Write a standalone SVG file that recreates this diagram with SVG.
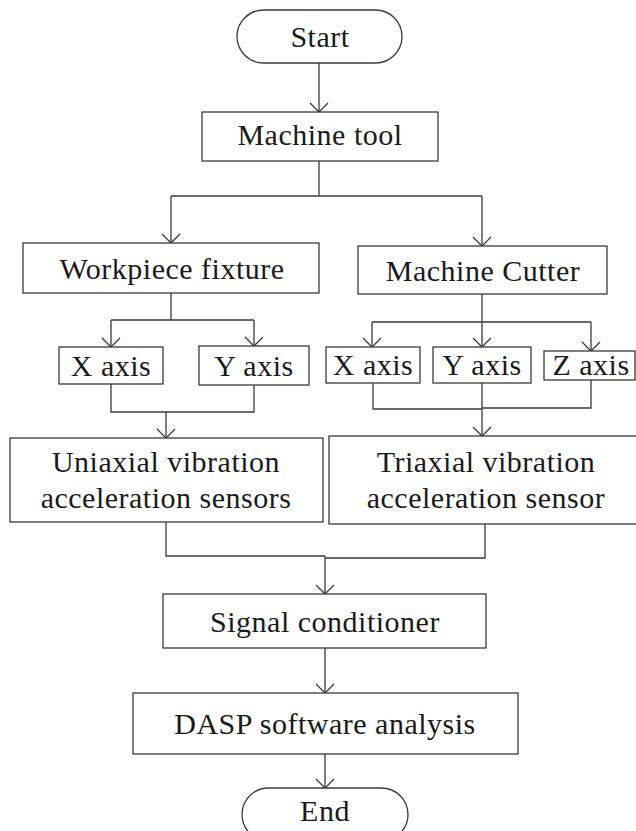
<svg xmlns="http://www.w3.org/2000/svg" width="636" height="831" viewBox="0 0 636 831">
  <style>
    .box { fill: #ffffff; stroke: #3a3a3a; stroke-width: 1.3; }
    .lbl { font-family: "Liberation Serif", "Times New Roman", serif; font-size: 30px; letter-spacing: 0.5px; fill: #1a1a1a; text-anchor: middle; }
    .wire { fill: none; stroke: #3a3a3a; stroke-width: 1.3; }
    .arr { marker-end: url(#vee); }
  </style>
  <defs>
    <marker id="vee" viewBox="-10 -10 20 20" markerWidth="20" markerHeight="20" refX="0" refY="0" orient="auto" markerUnits="userSpaceOnUse" overflow="visible">
      <path d="M -9 -9 L 0 0 L -9 9" fill="none" stroke="#3a3a3a" stroke-width="1.3"/>
    </marker>
  </defs>
  <rect width="636" height="831" fill="#ffffff"/>

  <!-- connectors -->
  <g id="connectors">
    <path class="wire arr" d="M 319 63 V 112"/>
    <path class="wire" d="M 319 161 V 196 M 171 196 H 482"/>
    <path class="wire arr" d="M 171 196 V 243"/>
    <path class="wire arr" d="M 482 196 V 246"/>

    <path class="wire" d="M 171 293 V 320 M 111 320 H 254"/>
    <path class="wire arr" d="M 111 320 V 347"/>
    <path class="wire arr" d="M 254 320 V 346"/>

    <path class="wire" d="M 482 294 V 322 M 372 322 H 591"/>
    <path class="wire arr" d="M 372 322 V 347"/>
    <path class="wire arr" d="M 482 322 V 347"/>
    <path class="wire arr" d="M 591 322 V 351"/>

    <path class="wire" d="M 111 384 V 412 H 254 V 385"/>
    <path class="wire arr" d="M 166 412 V 438"/>

    <path class="wire" d="M 373 383 V 409 H 482 M 482 408 H 591 V 380"/>
    <path class="wire arr" d="M 482 383 V 436"/>

    <path class="wire" d="M 166 522 V 556 H 325 M 485 524 V 558 H 325"/>
    <path class="wire arr" d="M 325 556 V 594"/>
    <path class="wire arr" d="M 325 648 V 693"/>
    <path class="wire arr" d="M 325 754 V 788"/>
  </g>

  <g id="start">
    <rect class="box" x="237" y="10" width="165" height="53" rx="26.5"/>
    <text class="lbl" x="320" y="47">Start</text>
  </g>
  <g id="machine-tool">
    <rect class="box" x="202" y="112" width="236" height="49"/>
    <text class="lbl" x="320" y="145">Machine tool</text>
  </g>
  <g id="workpiece-fixture">
    <rect class="box" x="23" y="243" width="296" height="50"/>
    <text class="lbl" x="172" y="279">Workpiece fixture</text>
  </g>
  <g id="machine-cutter">
    <rect class="box" x="358" y="246" width="249" height="48"/>
    <text class="lbl" x="483" y="281">Machine Cutter</text>
  </g>
  <g id="fixture-x">
    <rect class="box" x="59" y="347" width="104" height="37"/>
    <text class="lbl" x="111" y="376">X axis</text>
  </g>
  <g id="fixture-y">
    <rect class="box" x="199" y="346" width="110" height="39"/>
    <text class="lbl" x="254" y="376">Y axis</text>
  </g>
  <g id="cutter-x">
    <rect class="box" x="326" y="347" width="94" height="36"/>
    <text class="lbl" x="373" y="375">X axis</text>
  </g>
  <g id="cutter-y">
    <rect class="box" x="433" y="347" width="98" height="36"/>
    <text class="lbl" x="482" y="375">Y axis</text>
  </g>
  <g id="cutter-z">
    <rect class="box" x="544" y="351" width="91" height="29"/>
    <text class="lbl" x="591" y="375">Z axis</text>
  </g>
  <g id="uniaxial-sensor">
    <rect class="box" x="10" y="438" width="313" height="84"/>
    <text class="lbl" x="166" y="472">Uniaxial vibration</text>
    <text class="lbl" x="166" y="508">acceleration sensors</text>
  </g>
  <g id="triaxial-sensor">
    <rect class="box" x="329" y="436" width="310" height="88"/>
    <text class="lbl" x="486" y="472">Triaxial vibration</text>
    <text class="lbl" x="486" y="508">acceleration sensor</text>
  </g>
  <g id="signal-conditioner">
    <rect class="box" x="163" y="594" width="323" height="54"/>
    <text class="lbl" x="325" y="632">Signal conditioner</text>
  </g>
  <g id="dasp-analysis">
    <rect class="box" x="133" y="693" width="385" height="61"/>
    <text class="lbl" x="325" y="734">DASP software analysis</text>
  </g>
  <g id="end">
    <rect class="box" x="242" y="788" width="166" height="53" rx="26.5"/>
    <text class="lbl" x="325" y="821">End</text>
  </g>
</svg>
